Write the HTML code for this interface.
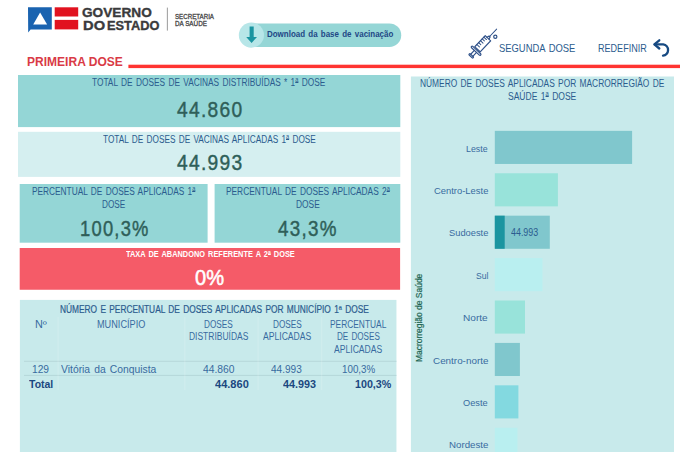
<!DOCTYPE html>
<html><head><meta charset="utf-8"><title>Primeira Dose</title>
<style>
html,body{margin:0;padding:0;background:#fff;}
body{width:680px;height:452px;position:relative;overflow:hidden;font-family:"Liberation Sans",sans-serif;}
.b{position:absolute;}
.t{position:absolute;white-space:nowrap;line-height:1;transform-origin:0 0;font-family:"Liberation Sans",sans-serif;}
svg{position:absolute;left:0;top:0;}
</style></head><body>
<svg width="680" height="452" viewBox="0 0 680 452">
  <rect x="18" y="75" width="382.3" height="52.1" fill="#94d6d6"/>
  <rect x="18" y="131.8" width="382.3" height="45.1" fill="#d5eff0"/>
  <rect x="19.7" y="184" width="187.9" height="58.7" fill="#94d6d6"/>
  <rect x="214.6" y="184" width="185.7" height="58.7" fill="#94d6d6"/>
  <rect x="19.7" y="248" width="380.4" height="41.75" fill="#f55b68"/>
  <rect x="19.9" y="299.9" width="376.55" height="153.1" fill="#c8eaeb"/>
  <rect x="410.9" y="76.5" width="263.1" height="376.5" fill="#c8eaeb"/>
  <rect x="128.4" y="64.7" width="552.6" height="3.4" fill="#ff3431"/>
  <rect x="24" y="360.8" width="372.45" height="0.9" fill="#b4d5d8"/>
  <rect x="24" y="374.9" width="372.45" height="0.9" fill="#b4d5d8"/>
  <rect x="57.6" y="317" width="0.9" height="73" fill="#ffffff" fill-opacity="0.2"/>
  <rect x="184.4" y="317" width="0.9" height="73" fill="#ffffff" fill-opacity="0.2"/>
  <rect x="257.6" y="317" width="0.9" height="73" fill="#ffffff" fill-opacity="0.2"/>
  <rect x="321.3" y="317" width="0.9" height="73" fill="#ffffff" fill-opacity="0.2"/>
  <rect x="244" y="23.4" width="157.2" height="23.5" rx="11.75" fill="#95d6d6"/>
  <circle cx="251.4" cy="35.1" r="12.6" fill="#b7e6e8"/>
  <rect x="494.8" y="130.86" width="137.3" height="33.1" fill="#80c7cd"/>
  <rect x="494.8" y="173.27" width="63.1" height="33.1" fill="#98e3da"/>
  <rect x="494.8" y="215.68" width="55.0" height="33.1" fill="#80c7cd"/>
  <rect x="494.8" y="215.68" width="9.9" height="33.1" fill="#1b95a0"/>
  <rect x="494.8" y="258.09" width="47.7" height="33.1" fill="#b9eff0"/>
  <rect x="494.8" y="300.5" width="30.2" height="33.1" fill="#98e3da"/>
  <rect x="494.8" y="342.91" width="25.1" height="33.1" fill="#80c7cd"/>
  <rect x="494.8" y="385.32" width="23.6" height="33.1" fill="#83d9e0"/>
  <rect x="494.8" y="427.73" width="22.7" height="33.1" fill="#b9eff0"/>
</svg>
<!-- icons -->
<svg width="680" height="452" viewBox="0 0 680 452">
  <!-- logo -->
  <path d="M28 7.3 H51.8 V29.4 H30.6 L28.2 32.4 Z" fill="#1a63b0"/>
  <path d="M40.1 12.6 L47.1 24.5 H33.2 Z" fill="#fff"/>
  <rect x="54.7" y="7.3" width="23.5" height="9.2" fill="#e1121f"/>
  <rect x="54.7" y="19.9" width="23.5" height="9.5" fill="#e1121f"/>
  <rect x="166.9" y="7.6" width="0.75" height="23" fill="#7a7a7a"/>
  <!-- download arrow -->
  <path d="M249.6 26.5 H253.7 V37 H257 L251.6 42.9 L246.2 37 H249.6 Z" fill="#1b95a1"/>
  <!-- syringe -->
  <g transform="translate(477.5,49.25) rotate(-46.5)" fill="none" stroke="#2f5189" stroke-width="1.15" stroke-linecap="round" stroke-linejoin="round">
    <rect x="0" y="-3.75" width="15.2" height="7.5"/>
    <path d="M15.2 -1.3 L17.6 -0.7 V0.7 L15.2 1.3"/>
    <path d="M17.6 0 H27.8" stroke-width="1"/>
    <rect x="-3" y="-6.3" width="1.9" height="12.6" rx="0.9"/>
    <path d="M-3 -1.5 H-8.3 M-3 1.5 H-8.3"/>
    <rect x="-9.9" y="-2.7" width="1.6" height="5.4" rx="0.6"/>
    <path d="M3 -3.75 V-0.2 M5.6 -3.75 V-0.8 M8.2 -3.75 V-0.2 M10.8 -3.75 V-0.8 M13.2 -3.75 V-0.2" stroke-width="1"/>
  </g>
  <circle cx="495.3" cy="36.8" r="1.6" fill="none" stroke="#2d4f85" stroke-width="1.2"/>
  <!-- undo -->
  <g fill="none" stroke="#174a82" stroke-width="2.3" stroke-linecap="round" stroke-linejoin="round">
    <path d="M659.3 40.3 L654.4 44.4 L659.3 48.5"/>
    <path d="M654.8 44.4 H663.2 A5.7 5.7 0 0 1 663 55.7"/>
  </g>
</svg>
<span class="t" style="left:82.20px;top:5.74px;font-size:13.3px;font-weight:700;color:#3a3a3c;transform:scaleX(1.0267);-webkit-text-stroke:0.35px #3a3a3c;">GOVERNO</span>
<span class="t" style="left:82.90px;top:18.54px;font-size:13.3px;font-weight:700;color:#3a3a3c;transform:scaleX(1.1076);-webkit-text-stroke:0.35px #3a3a3c;">DO</span>
<span class="t" style="left:106.90px;top:18.54px;font-size:13.3px;font-weight:700;color:#3a3a3c;transform:scaleX(0.9628);-webkit-text-stroke:0.35px #3a3a3c;">ESTADO</span>
<span class="t" style="left:174.80px;top:14.08px;font-size:6.4px;font-weight:400;color:#444;transform:scaleX(0.9659);-webkit-text-stroke:0.28px #444;">SECRETARIA</span>
<span class="t" style="left:174.80px;top:20.88px;font-size:6.4px;font-weight:400;color:#444;transform:scaleX(0.9868);-webkit-text-stroke:0.28px #444;">DA SAÚDE</span>
<span class="t" style="left:266.60px;top:30.11px;font-size:9.2px;font-weight:700;color:#1e4785;transform:scaleX(0.8666);word-spacing:1.2px;">Download da base de vacinação</span>
<span class="t" style="left:26.60px;top:54.91px;font-size:13.1px;font-weight:700;color:#d93a46;transform:scaleX(0.9187);">PRIMEIRA DOSE</span>
<span class="t" style="left:498.60px;top:43.14px;font-size:10.7px;font-weight:400;color:#2b5c8e;transform:scaleX(0.8797);word-spacing:1.2px;">SEGUNDA DOSE</span>
<span class="t" style="left:597.60px;top:43.14px;font-size:10.7px;font-weight:400;color:#2b5c8e;transform:scaleX(0.8471);">REDEFINIR</span>
<span class="t" style="left:92.10px;top:77.83px;font-size:10px;font-weight:400;color:#2b5c8e;transform:scaleX(0.8323);word-spacing:1.2px;">TOTAL DE DOSES DE VACINAS DISTRIBUÍDAS * 1<span style="font-size:0.68em;line-height:0;vertical-align:0.56em;text-decoration:underline;text-underline-offset:0.05em">a</span> DOSE</span>
<span class="t" style="left:176.50px;top:99.32px;font-size:22.3px;font-weight:400;color:#2f5f59;transform:scaleX(0.8613);-webkit-text-stroke:0.45px #2f5f59;letter-spacing:1.5px;">44.860</span>
<span class="t" style="left:102.60px;top:134.63px;font-size:10px;font-weight:400;color:#2b5c8e;transform:scaleX(0.8248);word-spacing:1.2px;">TOTAL DE DOSES DE VACINAS APLICADAS 1<span style="font-size:0.68em;line-height:0;vertical-align:0.56em;text-decoration:underline;text-underline-offset:0.05em">a</span> DOSE</span>
<span class="t" style="left:176.50px;top:152.32px;font-size:22.3px;font-weight:400;color:#2f5f59;transform:scaleX(0.8613);-webkit-text-stroke:0.45px #2f5f59;letter-spacing:1.5px;">44.993</span>
<span class="t" style="left:32.10px;top:187.13px;font-size:10px;font-weight:400;color:#2b5c8e;transform:scaleX(0.8306);word-spacing:1.2px;">PERCENTUAL DE DOSES APLICADAS 1<span style="font-size:0.68em;line-height:0;vertical-align:0.56em;text-decoration:underline;text-underline-offset:0.05em">a</span></span>
<span class="t" style="left:102.10px;top:199.63px;font-size:10px;font-weight:400;color:#2b5c8e;transform:scaleX(0.8221);">DOSE</span>
<span class="t" style="left:80.00px;top:217.92px;font-size:22.3px;font-weight:400;color:#2f5f59;transform:scaleX(0.8229);-webkit-text-stroke:0.45px #2f5f59;letter-spacing:1.5px;">100,3%</span>
<span class="t" style="left:225.60px;top:187.13px;font-size:10px;font-weight:400;color:#2b5c8e;transform:scaleX(0.8331);word-spacing:1.2px;">PERCENTUAL DE DOSES APLICADAS 2<span style="font-size:0.68em;line-height:0;vertical-align:0.56em;text-decoration:underline;text-underline-offset:0.05em">a</span></span>
<span class="t" style="left:295.60px;top:199.63px;font-size:10px;font-weight:400;color:#2b5c8e;transform:scaleX(0.8397);">DOSE</span>
<span class="t" style="left:277.60px;top:217.92px;font-size:22.3px;font-weight:400;color:#2f5f59;transform:scaleX(0.8435);-webkit-text-stroke:0.45px #2f5f59;letter-spacing:1.5px;">43,3%</span>
<span class="t" style="left:125.60px;top:250.40px;font-size:8.5px;font-weight:700;color:#ffffff;transform:scaleX(0.8695);word-spacing:1.2px;">TAXA DE ABANDONO REFERENTE A 2<span style="font-size:0.68em;line-height:0;vertical-align:0.56em;text-decoration:underline;text-underline-offset:0.05em">a</span> DOSE</span>
<span class="t" style="left:195.00px;top:266.52px;font-size:22.3px;font-weight:400;color:#ffffff;transform:scaleX(0.8997);-webkit-text-stroke:0.55px #fff;">0%</span>
<span class="t" style="left:59.60px;top:304.64px;font-size:10px;font-weight:400;color:#2b5c8e;transform:scaleX(0.8339);-webkit-text-stroke:0.2px #2b5c8e;word-spacing:1.2px;">NÚMERO E PERCENTUAL DE DOSES APLICADAS POR MUNICÍPIO 1ª DOSE</span>
<span class="t" style="left:34.60px;top:319.64px;font-size:10px;font-weight:400;color:#386aa0;transform:scaleX(1.0851);">Nº</span>
<span class="t" style="left:96.60px;top:319.64px;font-size:10px;font-weight:400;color:#386aa0;transform:scaleX(0.9151);">MUNICÍPIO</span>
<span class="t" style="left:204.10px;top:319.64px;font-size:10px;font-weight:400;color:#386aa0;transform:scaleX(0.8225);">DOSES</span>
<span class="t" style="left:189.10px;top:332.14px;font-size:10px;font-weight:400;color:#386aa0;transform:scaleX(0.8470);">DISTRIBUÍDAS</span>
<span class="t" style="left:272.60px;top:319.64px;font-size:10px;font-weight:400;color:#386aa0;transform:scaleX(0.8225);">DOSES</span>
<span class="t" style="left:262.60px;top:332.14px;font-size:10px;font-weight:400;color:#386aa0;transform:scaleX(0.8603);">APLICADAS</span>
<span class="t" style="left:330.10px;top:319.64px;font-size:10px;font-weight:400;color:#386aa0;transform:scaleX(0.8372);">PERCENTUAL</span>
<span class="t" style="left:337.10px;top:332.14px;font-size:10px;font-weight:400;color:#386aa0;transform:scaleX(0.8092);word-spacing:1.2px;">DE DOSES</span>
<span class="t" style="left:334.10px;top:344.64px;font-size:10px;font-weight:400;color:#386aa0;transform:scaleX(0.8603);">APLICADAS</span>
<span class="t" style="left:32.10px;top:364.46px;font-size:10.5px;font-weight:400;color:#386aa0;transform:scaleX(0.9725);">129</span>
<span class="t" style="left:60.60px;top:364.46px;font-size:10.5px;font-weight:400;color:#386aa0;transform:scaleX(0.9847);word-spacing:1.2px;">Vitória da Conquista</span>
<span class="t" style="left:202.60px;top:364.46px;font-size:10.5px;font-weight:400;color:#386aa0;transform:scaleX(0.9821);">44.860</span>
<span class="t" style="left:270.60px;top:364.46px;font-size:10.5px;font-weight:400;color:#386aa0;transform:scaleX(0.9588);">44.993</span>
<span class="t" style="left:341.60px;top:364.46px;font-size:10.5px;font-weight:400;color:#386aa0;transform:scaleX(0.9347);">100,3%</span>
<span class="t" style="left:28.60px;top:378.91px;font-size:10.5px;font-weight:700;color:#1b4780;transform:scaleX(0.9995);">Total</span>
<span class="t" style="left:215.35px;top:378.91px;font-size:10.5px;font-weight:700;color:#1b4780;transform:scaleX(1.0521);">44.860</span>
<span class="t" style="left:283.35px;top:378.91px;font-size:10.5px;font-weight:700;color:#1b4780;transform:scaleX(1.0288);">44.993</span>
<span class="t" style="left:355.10px;top:378.91px;font-size:10.5px;font-weight:700;color:#1b4780;transform:scaleX(1.0189);">100,3%</span>
<span class="t" style="left:420.10px;top:79.13px;font-size:10px;font-weight:400;color:#2b5c8e;transform:scaleX(0.8375);word-spacing:1.2px;">NÚMERO DE DOSES APLICADAS POR MACRORREGIÃO DE</span>
<span class="t" style="left:507.60px;top:92.13px;font-size:10px;font-weight:400;color:#2b5c8e;transform:scaleX(0.8526);word-spacing:1.2px;">SAÚDE 1<span style="font-size:0.68em;line-height:0;vertical-align:0.56em;text-decoration:underline;text-underline-offset:0.05em">a</span> DOSE</span>
<span class="t" style="left:466.35px;top:143.52px;font-size:9.9px;font-weight:400;color:#386aa0;transform:scaleX(0.8957);">Leste</span>
<span class="t" style="left:433.60px;top:185.93px;font-size:9.9px;font-weight:400;color:#386aa0;transform:scaleX(0.9528);">Centro-Leste</span>
<span class="t" style="left:448.60px;top:228.34px;font-size:9.9px;font-weight:400;color:#386aa0;transform:scaleX(0.9441);">Sudoeste</span>
<span class="t" style="left:475.60px;top:270.75px;font-size:9.9px;font-weight:400;color:#386aa0;transform:scaleX(0.8683);">Sul</span>
<span class="t" style="left:463.35px;top:313.16px;font-size:9.9px;font-weight:400;color:#386aa0;transform:scaleX(1.0204);">Norte</span>
<span class="t" style="left:432.60px;top:355.57px;font-size:9.9px;font-weight:400;color:#386aa0;transform:scaleX(0.9993);">Centro-norte</span>
<span class="t" style="left:463.35px;top:397.98px;font-size:9.9px;font-weight:400;color:#386aa0;transform:scaleX(0.9352);">Oeste</span>
<span class="t" style="left:448.60px;top:440.39px;font-size:9.9px;font-weight:400;color:#386aa0;transform:scaleX(0.9831);">Nordeste</span>
<span class="t" style="left:510.60px;top:228.40px;font-size:10.4px;font-weight:400;color:#2b5c8e;transform:scaleX(0.8559);">44.993</span>
<span class="t" style="left:414.6px;top:361.6px;font-size:9px;color:#1f6652;-webkit-text-stroke:0.2px #1f6652;transform:rotate(-90deg) scaleX(0.9387);">Macrorregião de Saúde</span>
</body></html>
